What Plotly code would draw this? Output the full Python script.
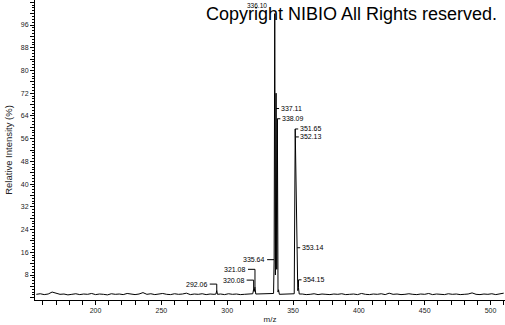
import plotly.graph_objects as go

# ---- data ----
baseline_mz = [155, 158, 161, 164, 167, 170, 173, 176, 179, 182, 185, 188, 191, 194, 197,
               200, 203, 206, 209, 212, 215, 218, 221, 224, 227, 230, 233, 236, 239, 242,
               245, 248, 251, 254, 257, 260, 263, 266, 269, 272, 275, 278, 281, 284, 287, 290,
               295, 298, 301, 304, 307, 310, 313, 316,
               342, 345, 348,
               357, 360, 363, 366, 369, 372, 375, 378, 381, 384, 387, 390, 393, 396, 399,
               402, 405, 408, 411, 414, 417, 420, 423, 426, 429, 432, 435, 438, 441, 444,
               447, 450, 453, 456, 459, 462, 465, 468, 471, 474, 477, 480, 483, 486, 489,
               492, 495, 498, 501, 504, 507, 510]
baseline_int = [1.2, 1.4, 1.1, 1.3, 2.0, 1.5, 1.2, 1.3, 1.0, 1.2, 1.4, 1.1, 1.3, 1.2, 1.5,
                1.1, 1.3, 1.2, 1.0, 1.4, 1.2, 1.3, 1.1, 1.5, 1.2, 1.1, 1.3, 1.8, 1.2, 1.4,
                1.1, 1.3, 1.5, 1.2, 1.1, 1.4, 1.2, 1.3, 1.6, 1.1, 1.3, 1.2, 1.4, 1.1, 1.3, 1.2,
                1.3, 1.1, 1.4, 1.2, 1.3, 1.1, 1.2, 1.3,
                1.2, 1.4, 1.2,
                1.3, 1.1, 1.2, 1.4, 1.1, 1.3, 1.2, 1.1, 1.3, 1.2, 1.4, 1.1, 1.2, 1.3, 1.1,
                1.5, 1.2, 1.1, 1.3, 1.2, 1.4, 1.1, 1.6, 1.2, 1.3, 1.1, 1.2, 1.4, 1.2, 1.1,
                1.3, 1.2, 1.5, 1.1, 1.3, 1.2, 1.1, 1.4, 1.2, 1.3, 1.1, 1.2, 1.3, 1.7, 1.2,
                1.1, 1.3, 1.2, 1.4, 1.1, 1.3, 1.6]

peak_mz = [291.5, 292.06, 292.6,
           319.4, 320.08, 320.5, 321.08, 321.7,
           335.2, 335.64, 336.10, 336.6, 337.11, 337.6, 338.09, 338.6, 339.0, 339.6,
           350.9, 351.65, 351.9, 352.13, 352.6, 353.14, 353.6, 354.15, 354.7]
peak_int = [1.3, 2.6, 1.2,
            1.4, 3.0, 2.2, 3.8, 1.3,
            1.5, 13.4, 100.0, 8.0, 72.0, 10.0, 63.0, 2.0, 2.8, 1.2,
            1.4, 59.4, 50.0, 56.6, 25.0, 17.6, 2.5, 3.5, 1.3]

label_mz = [292.06, 320.08, 321.08, 335.64, 336.10, 337.11, 338.09, 351.65, 352.13, 353.14, 354.15]
label_level = [4.8, 6.2, 10.0, 13.4, 100.0, 66.6, 63.0, 59.4, 56.6, 17.6, 6.3]
label_side = ["left", "left", "left", "left", "top", "right", "right", "right", "right", "right", "right"]

y_tickvals = list(range(0, 105, 4))
x_tickvals = list(range(160, 511, 10))

# ---- build the spectrum ----
pts = sorted(zip(baseline_mz + peak_mz, baseline_int + peak_int))
mz = [p[0] for p in pts]
inten = [p[1] for p in pts]
peak_top = dict(zip(peak_mz, peak_int))

FONT = "Arial, Liberation Sans, sans-serif"

fig = go.Figure()
fig.add_trace(go.Scatter(x=mz, y=inten, mode="lines",
                         line=dict(color="black", width=1), hoverinfo="skip",
                         showlegend=False))

annotations = []
shapes = []
for m, lv, side in zip(label_mz, label_level, label_side):
    txt = f"{m:.2f}"
    top = peak_top.get(m, lv)
    if side == "top":
        annotations.append(dict(x=m, y=lv, xref="x", yref="y", text=txt, showarrow=False,
                                xanchor="right", yanchor="middle", xshift=-7, yshift=8.5,
                                borderpad=0, font=dict(size=6.5, family=FONT, color="black")))
        continue
    if lv > top + 0.5:
        shapes.append(dict(type="line", xref="x", yref="y", x0=m, x1=m, y0=top, y1=lv,
                           line=dict(color="black", width=1)))
    if side == "right":
        shapes.append(dict(type="line", xref="x", yref="y", xsizemode="pixel", xanchor=m,
                           x0=0, x1=3, y0=lv, y1=lv, line=dict(color="black", width=1)))
        annotations.append(dict(x=m, y=lv, xref="x", yref="y", text=txt, showarrow=False,
                                xanchor="left", yanchor="middle", xshift=3.5,
                                borderpad=0, font=dict(size=7, family=FONT, color="black")))
    else:
        shapes.append(dict(type="line", xref="x", yref="y", xsizemode="pixel", xanchor=m,
                           x0=-7, x1=0, y0=lv, y1=lv, line=dict(color="black", width=1)))
        annotations.append(dict(x=m, y=lv, xref="x", yref="y", text=txt, showarrow=False,
                                xanchor="right", yanchor="middle", xshift=-8,
                                borderpad=0, font=dict(size=7, family=FONT, color="black")))

annotations.append(dict(x=0.985, y=0.955, xref="paper", yref="paper",
                        text="Copyright NIBIO All Rights reserved.", showarrow=False,
                        xanchor="right", yanchor="middle", borderpad=0,
                        font=dict(size=18, family=FONT, color="black")))

fig.update_layout(
    width=505, height=325,
    margin=dict(l=35, r=0, t=0, b=25),
    paper_bgcolor="white", plot_bgcolor="white",
    font=dict(family=FONT, color="#222"),
    annotations=annotations, shapes=shapes,
    xaxis=dict(range=[154, 511], showgrid=False, zeroline=False, showline=True,
               linecolor="black", linewidth=1, ticks="outside", ticklen=4,
               tickcolor="black", tickwidth=1,
               tickvals=x_tickvals,
               ticktext=[str(v) if v % 50 == 0 else "" for v in x_tickvals],
               tickfont=dict(size=7, family=FONT, color="#222"),
               title=dict(text="m/z", font=dict(size=8, family=FONT, color="#222"), standoff=2)),
    yaxis=dict(range=[-0.8, 104.8], showgrid=False, zeroline=False, showline=True,
               linecolor="black", linewidth=1, ticks="outside", ticklen=4,
               tickcolor="black", tickwidth=1,
               tickvals=y_tickvals,
               ticktext=[str(v) if (v % 8 == 0 and v > 0) else "" for v in y_tickvals],
               tickfont=dict(size=7, family=FONT, color="#222"),
               minor=dict(ticks="outside", ticklen=2, dtick=1, tickcolor="black",
                          showgrid=False),
               title=dict(text="Relative Intensity (%)",
                          font=dict(size=9.5, family=FONT, color="#222"), standoff=6)),
)

fig.write_html("out.html")
